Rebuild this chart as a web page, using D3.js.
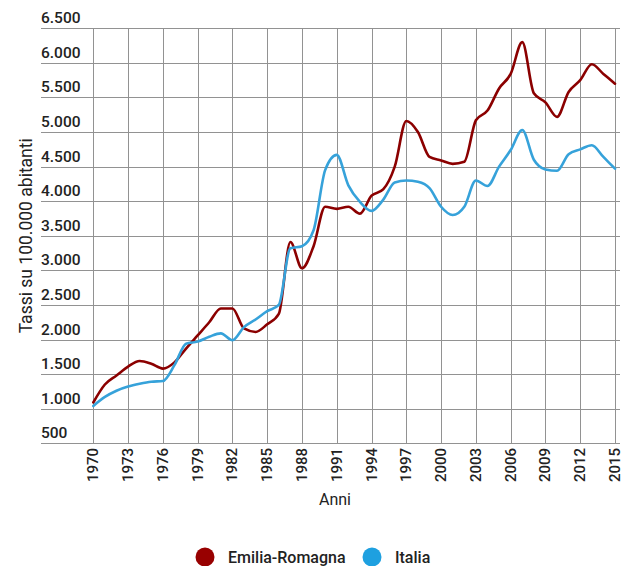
<!DOCTYPE html>
<html><head><meta charset="utf-8">
<script src="https://cdn.jsdelivr.net/npm/d3@7"></script>
<style>
html,body{margin:0;padding:0;background:#fff;}
svg text{font-family:Roboto,"Noto Sans",sans-serif;}
</style></head>
<body><svg id="c" width="634" height="566"></svg>
<script>
const years = d3.range(1970, 2016);
const emiliaRomagna = [1090,1350,1480,1610,1690,1650,1580,1670,1870,2060,2250,2450,2450,2160,2110,2220,2370,3410,3030,3350,3920,3890,3920,3820,4080,4170,4500,5160,5000,4640,4590,4540,4570,5170,5310,5630,5840,6300,5560,5430,5220,5580,5750,5980,5840,5700];
const italia = [1040,1170,1260,1320,1360,1390,1400,1630,1940,1970,2040,2090,1990,2180,2290,2410,2500,3320,3350,3580,4450,4670,4230,3990,3860,4020,4270,4300,4280,4190,3920,3800,3920,4300,4220,4500,4740,5030,4600,4460,4440,4680,4750,4810,4640,4470];
const yTicks = [500,1000,1500,2000,2500,3000,3500,4000,4500,5000,5500,6000,6500];
const xTicks = [1970,1973,1976,1979,1982,1985,1988,1991,1994,1997,2000,2003,2006,2009,2012,2015];
const seriesNames = ["Emilia-Romagna","Italia"];
const seriesColors = ["#8b0000","#36a2da"];
const legendColors = ["#980000","#1ea0e0"];

const svg = d3.select("#c");
const x = d3.scaleLinear().domain([1970,2015]).range([93.3,615]);
const y = d3.scaleLinear().domain([500,6500]).range([443.3,28.3]);
const gridColor = "#929292";

// horizontal gridlines + labels
const gy = svg.append("g");
gy.selectAll("line").data(yTicks).join("line")
  .attr("x1",41).attr("x2",620)
  .attr("y1",d=>Math.round(y(d))+0.5).attr("y2",d=>Math.round(y(d))+0.5)
  .attr("stroke",gridColor).attr("stroke-width",1);
gy.selectAll("text").data(yTicks).join("text")
  .attr("x",41).attr("y",d=>y(d)-5)
  .attr("font-size",15.5).attr("font-weight",500).attr("fill","#222")
  .text(d=>d3.format(",")(d).replace(/,/g,"."));

// vertical gridlines
const gx = svg.append("g");
gx.selectAll("line").data(xTicks).join("line")
  .attr("x1",d=>Math.round(x(d))+0.5).attr("x2",d=>Math.round(x(d))+0.5)
  .attr("y1",y(6500)).attr("y2",y(500))
  .attr("stroke",gridColor).attr("stroke-width",1);
gx.selectAll("text").data(xTicks).join("text")
  .attr("transform",d=>`translate(${x(d)+5},448) rotate(-90)`)
  .attr("text-anchor","end")
  .attr("font-size",15).attr("font-weight",500).attr("fill","#222")
  .text(d=>d);

// axis titles
svg.append("text").attr("x",335).attr("y",505).attr("text-anchor","middle")
  .attr("font-size",16).attr("fill","#222").text("Anni");
svg.append("text").attr("transform",`translate(32,${(y(500)+y(6500))/2}) rotate(-90)`)
  .attr("text-anchor","middle").attr("font-size",17.5).attr("fill","#222")
  .text("Tassi su 100.000 abitanti");

// lines
const line = d3.line().x((d,i)=>x(years[i])).y(d=>y(d)).curve(d3.curveMonotoneX);
[emiliaRomagna, italia].forEach((s,k)=>{
  svg.append("path").datum(s).attr("d",line)
    .attr("fill","none").attr("stroke",seriesColors[k]).attr("stroke-width",2.6)
    .attr("stroke-linejoin","round").attr("stroke-linecap","round");
});

// legend
const lg = svg.append("g");
const legX = [205,372];
seriesNames.forEach((n,k)=>{
  lg.append("circle").attr("cx",legX[k]).attr("cy",557).attr("r",9.5).attr("fill",legendColors[k]);
  lg.append("text").attr("x",legX[k]+23).attr("y",563).attr("font-size",16).attr("font-weight",500)
    .attr("fill","#222").text(n);
});
</script></body></html>
